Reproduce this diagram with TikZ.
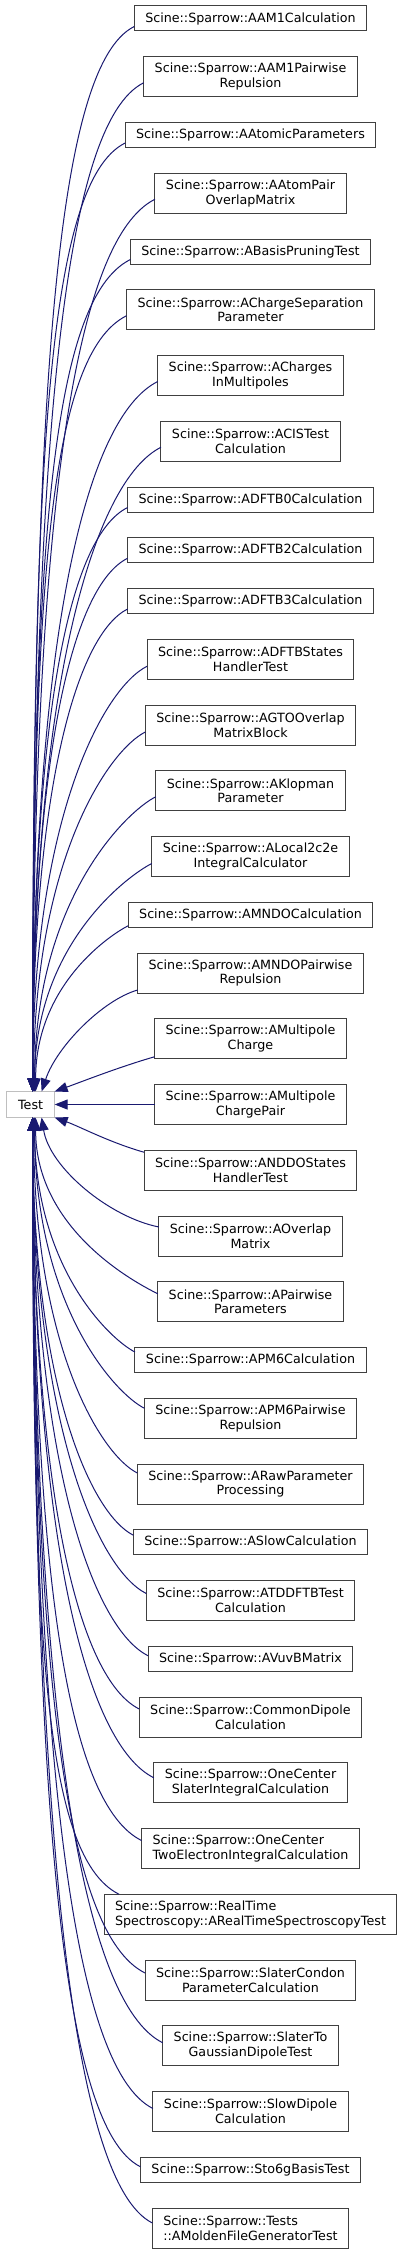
\documentclass[tikz,border=0pt]{standalone}
\usepackage{fontspec}
\setmainfont{DejaVu Sans}
\usetikzlibrary{arrows.meta, positioning, calc}

\definecolor{edgeblue}{HTML}{191970}
\definecolor{boxgrey}{HTML}{404040}
\definecolor{basegrey}{HTML}{BFBFBF}

\begin{document}
\begin{tikzpicture}[
    >={Triangle[length=13pt, width=10pt]},
    cls/.style={draw=boxgrey, line width=1pt, fill=white, minimum height=25pt,
                inner xsep=11pt, inner ysep=2pt, outer sep=0pt, align=center,
                font=\fontsize{12.7pt}{14.7pt}\selectfont},
    cls2/.style={cls, minimum height=40pt},
    testbox/.style={cls, draw=basegrey, inner xsep=2pt, minimum width=48pt,
                    minimum height=26pt},
    inherit/.style={<-, draw=edgeblue, line width=1pt},
    fan up/.style={to path={let \p1=(\tikztostart), \p2=(\tikztotarget),
        \n1={min(80pt,0.1*(\y2-\y1))} in
        .. controls (\x1,{\y1+0.65*(\y2-\y1)}) and ({\x2-\n1},{\y2-0.5*\n1})
        .. (\tikztotarget)}},
    fan down/.style={to path={let \p1=(\tikztostart), \p2=(\tikztotarget),
        \n1={min(80pt,0.1*(\y1-\y2))} in
        .. controls (\x1,{\y1-0.65*(\y1-\y2)}) and ({\x2-\n1},{\y2+0.5*\n1})
        .. (\tikztotarget)}},
    node distance=25.75pt
  ]
  \useasboundingbox (0,0) rectangle (405pt,-2253pt);

  % derived classes, top to bottom
  \node[cls] (aam1calc) at (250.5pt,-18.5pt) {Scine::Sparrow::AAM1Calculation};
  \node[cls2, below=of aam1calc] (aam1pair) {Scine::Sparrow::AAM1Pairwise\\Repulsion};
  \node[cls, below=of aam1pair] (atomicpar) {Scine::Sparrow::AAtomicParameters};
  \node[cls2, below=of atomicpar] (atompair) {Scine::Sparrow::AAtomPair\\OverlapMatrix};
  \node[cls, below=of atompair] (basisprun) {Scine::Sparrow::ABasisPruningTest};
  \node[cls2, below=of basisprun] (chargesep) {Scine::Sparrow::AChargeSeparation\\Parameter};
  \node[cls2, below=of chargesep] (chargesmp) {Scine::Sparrow::ACharges\\InMultipoles};
  \node[cls2, below=of chargesmp] (cistest) {Scine::Sparrow::ACISTest\\Calculation};
  \node[cls, below=of cistest] (dftb0) {Scine::Sparrow::ADFTB0Calculation};
  \node[cls, below=of dftb0] (dftb2) {Scine::Sparrow::ADFTB2Calculation};
  \node[cls, below=of dftb2] (dftb3) {Scine::Sparrow::ADFTB3Calculation};
  \node[cls2, below=of dftb3] (dftbstates) {Scine::Sparrow::ADFTBStates\\HandlerTest};
  \node[cls2, below=of dftbstates] (gtooverlap) {Scine::Sparrow::AGTOOverlap\\MatrixBlock};
  \node[cls2, below=of gtooverlap] (klopman) {Scine::Sparrow::AKlopman\\Parameter};
  \node[cls2, below=of klopman] (local2c2e) {Scine::Sparrow::ALocal2c2e\\IntegralCalculator};
  \node[cls, below=of local2c2e] (mndocalc) {Scine::Sparrow::AMNDOCalculation};
  \node[cls2, below=of mndocalc] (mndopair) {Scine::Sparrow::AMNDOPairwise\\Repulsion};
  \node[cls2, below=of mndopair] (mpcharge) {Scine::Sparrow::AMultipole\\Charge};
  \node[cls2, below=of mpcharge] (mpchargepair) {Scine::Sparrow::AMultipole\\ChargePair};
  \node[cls2, below=of mpchargepair] (nddostates) {Scine::Sparrow::ANDDOStates\\HandlerTest};
  \node[cls2, below=of nddostates] (overlap) {Scine::Sparrow::AOverlap\\Matrix};
  \node[cls2, below=of overlap] (pairwisepar) {Scine::Sparrow::APairwise\\Parameters};
  \node[cls, below=of pairwisepar] (pm6calc) {Scine::Sparrow::APM6Calculation};
  \node[cls2, below=of pm6calc] (pm6pair) {Scine::Sparrow::APM6Pairwise\\Repulsion};
  \node[cls2, below=of pm6pair] (rawpar) {Scine::Sparrow::ARawParameter\\Processing};
  \node[cls, below=of rawpar] (slowcalc) {Scine::Sparrow::ASlowCalculation};
  \node[cls2, below=of slowcalc] (tddftb) {Scine::Sparrow::ATDDFTBTest\\Calculation};
  \node[cls, below=of tddftb] (vuvb) {Scine::Sparrow::AVuvBMatrix};
  \node[cls2, below=of vuvb] (commondip) {Scine::Sparrow::CommonDipole\\Calculation};
  \node[cls2, below=of commondip] (oneslater) {Scine::Sparrow::OneCenter\\SlaterIntegralCalculation};
  \node[cls2, align=left, below=of oneslater] (onetwoel) {Scine::Sparrow::OneCenter\\TwoElectronIntegralCalculation};
  \node[cls2, align=left, below=of onetwoel] (realtime) {Scine::Sparrow::RealTime\\Spectroscopy::ARealTimeSpectroscopyTest};
  \node[cls2, below=of realtime] (slatercondon) {Scine::Sparrow::SlaterCondon\\ParameterCalculation};
  \node[cls2, below=of slatercondon] (slatergauss) {Scine::Sparrow::SlaterTo\\GaussianDipoleTest};
  \node[cls2, below=of slatergauss] (slowdipole) {Scine::Sparrow::SlowDipole\\Calculation};
  \node[cls, below=of slowdipole] (sto6g) {Scine::Sparrow::Sto6gBasisTest};
  \node[cls2, align=left, below=of sto6g] (molden) {Scine::Sparrow::Tests\\::AMoldenFileGeneratorTest};

  % base class
  \node[testbox, left=100pt of mpchargepair] (test) {Test};

  % upper fan
  \draw[inherit] ([xshift=2pt]test.north) to[fan up] ([yshift=-8pt]aam1calc.west);
  \draw[inherit] ([xshift=2pt]test.north) to[fan up] ([yshift=-6pt]aam1pair.west);
  \draw[inherit] ([xshift=2pt]test.north) to[fan up] ([yshift=-8pt]atomicpar.west);
  \draw[inherit] ([xshift=2pt]test.north) to[fan up] ([yshift=-6pt]atompair.west);
  \draw[inherit] ([xshift=2pt]test.north) to[fan up] ([yshift=-8pt]basisprun.west);
  \draw[inherit] ([xshift=2pt]test.north) to[fan up] ([yshift=-6pt]chargesep.west);
  \draw[inherit] ([xshift=2pt]test.north) to[fan up] ([yshift=-6pt]chargesmp.west);
  \draw[inherit] ([xshift=2pt]test.north) to[fan up] ([yshift=-6pt]cistest.west);
  \draw[inherit] ([xshift=2pt]test.north) to[fan up] ([yshift=-8pt]dftb0.west);
  \draw[inherit] ([xshift=2pt]test.north) to[fan up] ([yshift=-8pt]dftb2.west);
  \draw[inherit] ([xshift=2pt]test.north) to[fan up] ([yshift=-8pt]dftb3.west);
  \draw[inherit] ([xshift=2pt]test.north) to[fan up] ([yshift=-7pt]dftbstates.west);
  \draw[inherit] ([xshift=3pt]test.north) to[fan up] ([yshift=-7pt]gtooverlap.west);
  \draw[inherit] ([xshift=4pt]test.north) to[fan up] ([yshift=-6pt]klopman.west);
  \draw[inherit] ([xshift=4pt]test.north) to[fan up] ([yshift=-7pt]local2c2e.west);
  \draw[inherit] ([xshift=5pt]test.north) to[fan up] ([yshift=-11pt]mndocalc.west);

  % nearest ones
  \draw[inherit] ([xshift=11pt]test.north) .. controls +(15pt,45pt) and +(-35pt,-10pt) .. ([yshift=-17pt]mndopair.west);
  \draw[inherit] (test.north east) .. controls +(25pt,9pt) and +(-35pt,-10pt) .. ([yshift=-18pt]mpcharge.west);
  \draw[inherit] (test.east) -- (mpchargepair.west);
  \draw[inherit] (test.south east) .. controls +(25pt,-9pt) and +(-35pt,10pt) .. ([yshift=18pt]nddostates.west);
  \draw[inherit] ([xshift=11pt]test.south) .. controls +(8pt,-50pt) and +(-50pt,10pt) .. ([yshift=9pt]overlap.west);

  % lower fan
  \draw[inherit] ([xshift=5pt]test.south) to[fan down] ([yshift=8pt]pairwisepar.west);
  \draw[inherit] ([xshift=4pt]test.south) to[fan down] ([yshift=8pt]pm6calc.west);
  \draw[inherit] ([xshift=4pt]test.south) to[fan down] ([yshift=10pt]pm6pair.west);
  \draw[inherit] ([xshift=3pt]test.south) to[fan down] ([yshift=11pt]rawpar.west);
  \draw[inherit] ([xshift=2pt]test.south) to[fan down] ([yshift=7pt]slowcalc.west);
  \draw[inherit] ([xshift=2pt]test.south) to[fan down] ([yshift=7pt]tddftb.west);
  \draw[inherit] ([xshift=2pt]test.south) to[fan down] ([yshift=3pt]vuvb.west);
  \draw[inherit] ([xshift=2pt]test.south) to[fan down] ([yshift=8pt]commondip.west);
  \draw[inherit] ([xshift=2pt]test.south) to[fan down] ([yshift=5pt]oneslater.west);
  \draw[inherit] ([xshift=2pt]test.south) to[fan down] ([yshift=8pt]onetwoel.west);
  \draw[inherit] ([xshift=2pt]test.south) to[fan down] ([xshift=15pt]realtime.north west);
  \draw[inherit] ([xshift=2pt]test.south) to[fan down] ([yshift=7pt]slatercondon.west);
  \draw[inherit] ([xshift=2pt]test.south) to[fan down] ([yshift=3pt]slatergauss.west);
  \draw[inherit] ([xshift=2pt]test.south) to[fan down] ([yshift=3pt]slowdipole.west);
  \draw[inherit] ([xshift=2pt]test.south) to[fan down] ([yshift=3pt]sto6g.west);
  \draw[inherit] ([xshift=2pt]test.south) to[fan down] ([yshift=5pt]molden.west);
\end{tikzpicture}
\end{document}
